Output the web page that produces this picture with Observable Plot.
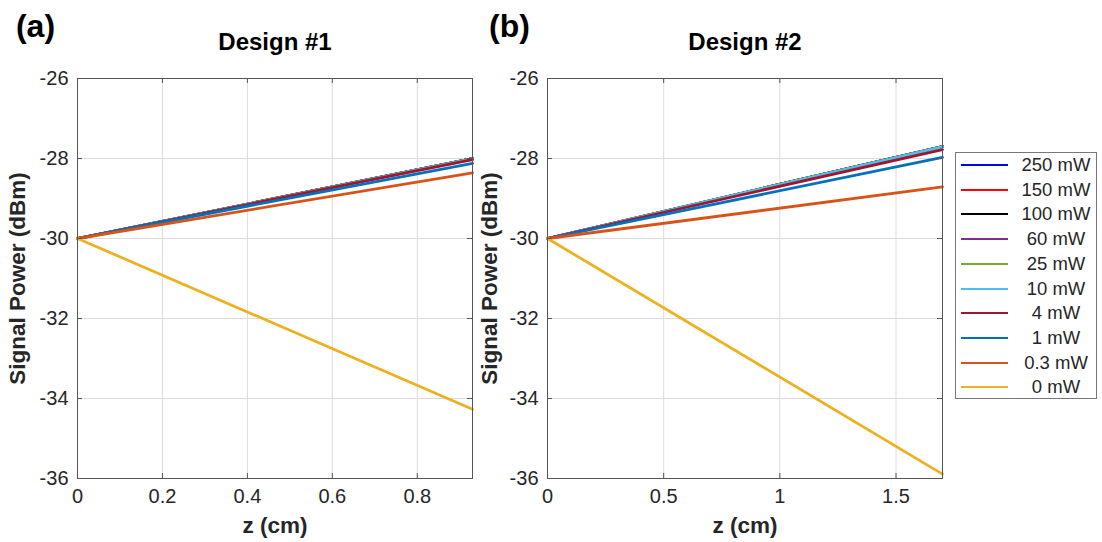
<!DOCTYPE html>
<html>
<head>
<meta charset="utf-8">
<script src="https://cdn.jsdelivr.net/npm/d3@7"></script>
<script src="https://cdn.jsdelivr.net/npm/@observablehq/plot@0.6"></script>
<style>
  html, body { margin: 0; padding: 0; background: #fff; }
  body { width: 1102px; height: 542px; position: relative; overflow: hidden; font-family: "Liberation Sans", Arial, sans-serif; }
  .panel { position: absolute; top: 0; }
  .panel svg { font-family: "Liberation Sans", Arial, sans-serif; overflow: visible; }
  .panel [aria-label="y-axis tick label"] text, .panel [aria-label="x-axis tick label"] text { font-size: 20px; fill: #262626; }
  .panel [aria-label="y-axis label"] text, .panel [aria-label="x-axis label"] text { font-size: 22.5px; font-weight: bold; fill: #262626; }
  .legend { position: absolute; left: 955px; top: 152px; width: 142px; height: 247px; border: 1px solid #777; background: #fff; box-sizing: border-box; }
  .legend .row { position: absolute; left: 0; width: 140px; height: 24px; }
  .legend .sw { position: absolute; left: 5px; width: 47px; top: 11px; height: 0; border-top: 2.8px solid; }
  .legend .lab { position: absolute; left: 52px; width: 96px; text-align: center; top: 1px; font-size: 18.5px; line-height: 22px; color: #262626; }
</style>
</head>
<body>
<div id="pa" class="panel" style="left:0px"></div>
<div id="pb" class="panel" style="left:470px"></div>
<div id="legend" class="legend"></div>
<script>
// Series (pump powers) and their colours
const labels = ["250 mW", "150 mW", "100 mW", "60 mW", "25 mW", "10 mW", "4 mW", "1 mW", "0.3 mW", "0 mW"];
const colors = ["#0000ff", "#ff0000", "#000000", "#7e2f8e", "#77ac30", "#4dbeee", "#a2142f", "#0072bd", "#d95319", "#edb120"];

// Signal power at z = 0 (dBm)
const startPower = -30;

// Design #1: z range and end values (dBm) at z = zEndA
const zEndA = 0.93;
const endA = [-28.0, -28.0, -28.0, -28.0, -28.0, -28.01, -28.03, -28.12, -28.36, -34.27];

// Design #2: z range and end values (dBm) at z = zEndB
const zEndB = 1.7;
const endB = [-27.70, -27.70, -27.70, -27.70, -27.70, -27.71, -27.78, -27.97, -28.71, -35.89];

// Axis ticks
const yTicks = [-36, -34, -32, -30, -28, -26];
const xTicksA = [0, 0.2, 0.4, 0.6, 0.8];
const xTicksB = [0, 0.5, 1, 1.5];

function buildData(zEnd, ends) {
  const rows = [];
  labels.forEach((s, i) => {
    rows.push({series: s, z: 0, p: startPower, order: i});
    rows.push({series: s, z: zEnd, p: ends[i], order: i});
  });
  return rows;
}

function panel(zEnd, ends, xTicks, title, tag, tagDx, yLabelOffset) {
  const data = buildData(zEnd, ends);
  const W = 480, H = 542, mt = 78, mb = 64, ml = 77, mr = 8;
  const innerH = H - mt - mb;
  const innerW = W - ml - mr;
  return Plot.plot({
    width: W, height: H,
    marginTop: mt, marginBottom: mb, marginLeft: ml, marginRight: mr,
    x: {domain: [0, zEnd]},
    y: {domain: [-36, -26]},
    color: {domain: labels, range: colors},
    marks: [
      Plot.gridX(xTicks, {stroke: "#dcdcdc", strokeOpacity: 1}),
      Plot.gridY(yTicks, {stroke: "#dcdcdc", strokeOpacity: 1}),
      Plot.line(data, {x: "z", y: "p", z: "series", stroke: "series", strokeWidth: 2.8}),
      Plot.frame({stroke: "#555", strokeWidth: 1}),
      // inward ticks (bottom / top / left / right)
      Plot.tickX(xTicks, {x: d => d, insetTop: innerH - 5, stroke: "#555"}),
      Plot.tickX(xTicks, {x: d => d, insetBottom: innerH - 5, stroke: "#555"}),
      Plot.tickY(yTicks, {y: d => d, insetRight: innerW - 5, stroke: "#555"}),
      Plot.tickY(yTicks, {y: d => d, insetLeft: innerW - 5, stroke: "#555"}),
      Plot.axisX(xTicks, {anchor: "bottom", tickSize: 0, tickPadding: 10, label: "z (cm)", labelAnchor: "center", labelArrow: "none", labelOffset: 54, tickFormat: d => String(d)}),
      Plot.axisY(yTicks, {anchor: "left", tickSize: 0, tickPadding: 9, label: "Signal Power (dBm)", labelAnchor: "center", labelArrow: "none", labelOffset: yLabelOffset, tickFormat: d => String(d)}),
      Plot.text([title], {frameAnchor: "top", lineAnchor: "middle", dy: -36, fontSize: 24, fontWeight: "bold", fill: "#000"}),
      Plot.text([tag], {frameAnchor: "top-left", lineAnchor: "middle", dx: tagDx, dy: -52, fontSize: 32, fontWeight: "bold", fill: "#000", textAnchor: "middle"})
    ]
  });
}

document.getElementById("pa").append(panel(zEndA, endA, xTicksA, "Design #1", "(a)", -42, 68));
document.getElementById("pb").append(panel(zEndB, endB, xTicksB, "Design #2", "(b)", -38, 66));

// Legend
const lg = d3.select("#legend");
labels.forEach((s, i) => {
  const row = lg.append("div").attr("class", "row").style("top", (13 - 12 + i * 24.7 - 1) + "px");
  row.append("div").attr("class", "sw").style("border-top-color", colors[i]);
  row.append("div").attr("class", "lab").text(s);
});
</script>
</body>
</html>
